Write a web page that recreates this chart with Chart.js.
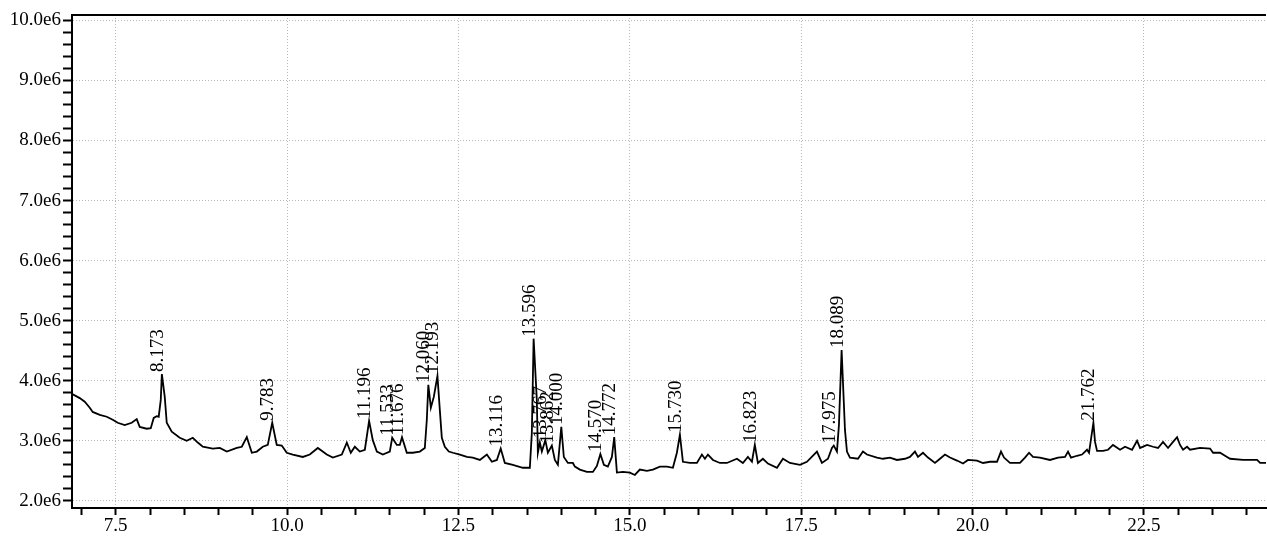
<!DOCTYPE html>
<html>
<head>
<meta charset="utf-8">
<script src="https://cdn.jsdelivr.net/npm/chart.js@4.4.1/dist/chart.umd.min.js"></script>
<style>
  html, body { margin: 0; padding: 0; background: #fff; }
</style>
</head>
<body>
<canvas id="tic" width="1267" height="536"></canvas>
<script>
// retention time (min)
const retentionTime = [
  6.860, 6.975, 7.048, 7.121, 7.164, 7.267, 7.369, 7.456, 7.529, 7.631,
  7.733, 7.806, 7.850, 7.952, 8.011, 8.054, 8.098, 8.127, 8.157, 8.173,
  8.215, 8.244, 8.317, 8.434, 8.536, 8.624, 8.697, 8.770, 8.915, 9.018,
  9.120, 9.266, 9.339, 9.412, 9.485, 9.558, 9.645, 9.718, 9.783, 9.849,
  9.922, 9.995, 10.083, 10.229, 10.331, 10.448, 10.579, 10.667, 10.798, 10.871,
  10.929, 10.988, 11.061, 11.134, 11.196, 11.250, 11.309, 11.396, 11.498, 11.533,
  11.600, 11.644, 11.676, 11.746, 11.834, 11.936, 12.009, 12.038, 12.060, 12.097,
  12.140, 12.193, 12.228, 12.257, 12.301, 12.359, 12.418, 12.520, 12.622, 12.709,
  12.812, 12.914, 12.987, 13.060, 13.116, 13.176, 13.293, 13.439, 13.541, 13.570,
  13.596, 13.643, 13.658, 13.687, 13.716, 13.767, 13.804, 13.862, 13.906, 13.950,
  14.000, 14.037, 14.096, 14.169, 14.198, 14.271, 14.373, 14.461, 14.519, 14.570,
  14.621, 14.679, 14.738, 14.772, 14.811, 14.898, 15.000, 15.073, 15.146, 15.249,
  15.336, 15.438, 15.540, 15.628, 15.686, 15.730, 15.774, 15.876, 15.978, 16.051,
  16.095, 16.139, 16.212, 16.314, 16.416, 16.562, 16.649, 16.722, 16.781, 16.823,
  16.868, 16.941, 17.014, 17.146, 17.233, 17.335, 17.481, 17.583, 17.729, 17.802,
  17.890, 17.948, 17.975, 18.021, 18.050, 18.089, 18.138, 18.167, 18.211, 18.328,
  18.400, 18.459, 18.605, 18.692, 18.794, 18.897, 19.013, 19.086, 19.159, 19.203,
  19.276, 19.349, 19.451, 19.524, 19.597, 19.670, 19.772, 19.860, 19.933, 20.064,
  20.152, 20.254, 20.356, 20.414, 20.458, 20.545, 20.691, 20.764, 20.823, 20.881,
  20.983, 21.129, 21.246, 21.348, 21.392, 21.436, 21.523, 21.596, 21.669, 21.698,
  21.762, 21.786, 21.815, 21.903, 21.976, 22.048, 22.151, 22.224, 22.326, 22.399,
  22.443, 22.545, 22.632, 22.705, 22.778, 22.851, 22.924, 22.983, 23.026, 23.070,
  23.128, 23.172, 23.318, 23.464, 23.508, 23.610, 23.712, 23.756, 23.945, 24.150,
  24.194, 24.296
];

// abundance, in units of 1e6
const abundance = [
  3.78, 3.71, 3.65, 3.55, 3.48, 3.43, 3.40, 3.35, 3.30, 3.26,
  3.30, 3.36, 3.23, 3.20, 3.21, 3.38, 3.41, 3.40, 3.68, 4.11,
  3.73, 3.30, 3.15, 3.05, 3.00, 3.05, 2.97, 2.90, 2.87, 2.88,
  2.82, 2.88, 2.90, 3.06, 2.80, 2.82, 2.90, 2.93, 3.30, 2.93,
  2.92, 2.80, 2.77, 2.73, 2.77, 2.88, 2.77, 2.72, 2.77, 2.97,
  2.80, 2.90, 2.82, 2.85, 3.33, 3.01, 2.82, 2.77, 2.82, 3.05,
  2.93, 2.93, 3.06, 2.80, 2.80, 2.82, 2.88, 3.35, 3.93, 3.55,
  3.73, 4.08, 3.51, 3.05, 2.90, 2.82, 2.80, 2.77, 2.73, 2.72,
  2.68, 2.77, 2.65, 2.68, 2.87, 2.63, 2.60, 2.55, 2.55, 3.13,
  4.70, 3.68, 2.80, 2.97, 2.82, 3.01, 2.80, 2.92, 2.68, 2.60,
  3.23, 2.73, 2.63, 2.63, 2.57, 2.52, 2.48, 2.48, 2.58, 2.78,
  2.60, 2.57, 2.73, 3.06, 2.47, 2.48, 2.47, 2.43, 2.52, 2.50,
  2.52, 2.57, 2.57, 2.55, 2.80, 3.10, 2.65, 2.63, 2.63, 2.77,
  2.70, 2.77, 2.68, 2.63, 2.63, 2.70, 2.63, 2.73, 2.65, 2.93,
  2.63, 2.70, 2.62, 2.55, 2.70, 2.63, 2.60, 2.65, 2.82, 2.63,
  2.70, 2.88, 2.92, 2.82, 3.26, 4.51, 3.18, 2.82, 2.72, 2.70,
  2.82, 2.77, 2.72, 2.70, 2.72, 2.68, 2.70, 2.73, 2.82, 2.73,
  2.80, 2.72, 2.63, 2.70, 2.77, 2.72, 2.67, 2.62, 2.68, 2.67,
  2.63, 2.65, 2.65, 2.82, 2.72, 2.63, 2.63, 2.72, 2.80, 2.73,
  2.72, 2.68, 2.72, 2.73, 2.82, 2.72, 2.75, 2.77, 2.85, 2.80,
  3.30, 2.98, 2.83, 2.83, 2.85, 2.93, 2.85, 2.90, 2.85, 3.00,
  2.88, 2.93, 2.90, 2.88, 2.98, 2.88, 2.98, 3.06, 2.93, 2.85,
  2.90, 2.85, 2.88, 2.87, 2.80, 2.80, 2.73, 2.70, 2.68, 2.68,
  2.63, 2.63
];

// labelled peaks
const peakTimes = [8.173, 9.783, 11.196, 11.533, 11.676, 12.060, 12.193, 13.116, 13.596,
  13.767, 13.862, 14.000, 14.570, 14.772, 15.730, 16.823, 17.975, 18.089, 21.762];
const peakLabels = ["8.173", "9.783", "11.196", "11.533", "11.676", "12.060", "12.193", "13.116", "13.596",
  "13.767", "13.862", "14.000", "14.570", "14.772", "15.730", "16.823", "17.975", "18.089", "21.762"];

const xTickLabels = [7.5, 10.0, 12.5, 15.0, 17.5, 20.0, 22.5];
const yTickLabels = [2.0, 3.0, 4.0, 5.0, 6.0, 7.0, 8.0, 9.0, 10.0];

const X_MIN = 6.862, X_MAX = 24.28;
const Y_MIN = 1.88, Y_MAX = 10.09;
const FONT = { family: '"Liberation Serif", "Times New Roman", serif', size: 19 };
const GRID_COLOR = '#b8b8b8';

// minor tick positions
const xTicks = [];
for (let v = 7.0; v <= 24.0001; v += 0.5) xTicks.push(Math.round(v * 10) / 10);
const yTicks = [];
for (let v = 2.0; v <= 10.0001; v += 0.2) yTicks.push(Math.round(v * 10) / 10);

const isLabelled = (v, list) => list.some(t => Math.abs(t - v) < 1e-6);

const points = retentionTime.map((t, i) => ({ x: t, y: abundance[i] }));

const peakLabelPlugin = {
  id: 'peakLabels',
  afterDatasetsDraw(chart) {
    const { ctx, scales: { x, y } } = chart;
    ctx.save();
    ctx.font = '19px "Liberation Serif", "Times New Roman", serif';
    ctx.fillStyle = '#000';
    ctx.textAlign = 'left';
    ctx.textBaseline = 'alphabetic';
    peakTimes.forEach((t, i) => {
      const idx = retentionTime.indexOf(t);
      const px = x.getPixelForValue(t);
      const py = y.getPixelForValue(abundance[idx]);
      ctx.save();
      ctx.translate(px + 1, py - 2);
      ctx.rotate(-Math.PI / 2);
      ctx.fillText(peakLabels[i], 0, 0);
      ctx.restore();
    });
    ctx.restore();
  },
  afterDraw(chart) {
    // frame line along the top
    const { ctx, chartArea } = chart;
    ctx.save();
    ctx.strokeStyle = '#000';
    ctx.lineWidth = 2;
    ctx.beginPath();
    ctx.moveTo(chartArea.left - 1, chartArea.top);
    ctx.lineTo(chartArea.right, chartArea.top);
    ctx.stroke();
    ctx.restore();
  }
};

new Chart(document.getElementById('tic'), {
  type: 'line',
  data: {
    datasets: [{
      data: points,
      borderColor: '#000',
      borderWidth: 1.8,
      pointRadius: 0,
      tension: 0,
      fill: false
    }]
  },
  options: {
    responsive: false,
    animation: false,
    layout: { padding: { top: 15, right: 1, left: 0, bottom: 0 } },
    plugins: { legend: { display: false }, tooltip: { enabled: false } },
    scales: {
      x: {
        type: 'linear',
        min: X_MIN,
        max: X_MAX,
        afterBuildTicks: s => { s.ticks = xTicks.map(v => ({ value: v })); },
        afterFit: s => { s.height = 28; },
        ticks: {
          autoSkip: false,
          maxRotation: 0,
          color: '#000',
          font: FONT,
          padding: 0,
          callback: v => isLabelled(v, xTickLabels) ? v.toFixed(1) : ''
        },
        grid: {
          color: c => (c.tick && isLabelled(c.tick.value, xTickLabels)) ? GRID_COLOR : 'rgba(0,0,0,0)',
          lineWidth: 1,
          tickLength: 7,
          tickColor: '#000',
          tickWidth: 2,
          tickBorderDash: []
        },
        border: { color: '#000', width: 2, dash: [1, 2] }
      },
      y: {
        min: Y_MIN,
        max: Y_MAX,
        afterBuildTicks: s => { s.ticks = yTicks.map(v => ({ value: v })); },
        afterFit: s => { s.width = 72; },
        ticks: {
          autoSkip: false,
          color: '#000',
          font: FONT,
          padding: 2,
          callback: v => isLabelled(v, yTickLabels) ? v.toFixed(1) + 'e6' : ''
        },
        grid: {
          color: c => (c.tick && isLabelled(c.tick.value, yTickLabels)) ? GRID_COLOR : 'rgba(0,0,0,0)',
          lineWidth: 1,
          tickLength: 9,
          tickColor: '#000',
          tickWidth: 2,
          tickBorderDash: []
        },
        border: { color: '#000', width: 2, dash: [1, 2] }
      }
    }
  },
  plugins: [peakLabelPlugin]
});
</script>
</body>
</html>
